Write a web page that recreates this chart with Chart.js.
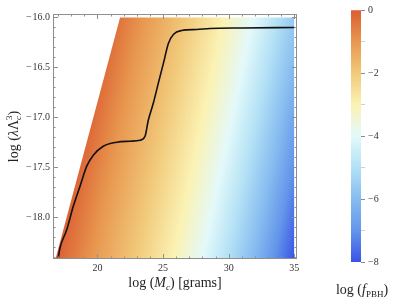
<!DOCTYPE html>
<html>
<head>
<meta charset="utf-8">
<script src="https://cdn.jsdelivr.net/npm/chart.js@4.4.1/dist/chart.umd.min.js"></script>
<style>
  html, body { margin: 0; padding: 0; background: #fff; }
  #wrap { position: relative; width: 399px; height: 307px; }
  #main { position: absolute; left: 0; top: 0; }
  #bar { position: absolute; left: 300px; top: 0; }
</style>
</head>
<body>
<div id="wrap">
  <canvas id="main" width="399" height="307"></canvas>
  <canvas id="bar" width="99" height="307"></canvas>
</div>
<script>
// black curve
const curveX = [17.01, 17.14, 17.65, 18.16, 18.67, 19.18, 19.68, 20.44, 21.46, 22.48, 23.24, 23.62, 23.87, 24.25, 24.63, 25.02, 25.40, 25.78, 26.42, 27.56, 28.57, 31.0, 35.0];
const curveY = [-18.41, -18.31, -18.13, -17.89, -17.69, -17.49, -17.38, -17.29, -17.25, -17.24, -17.23, -17.19, -17.03, -16.86, -16.66, -16.46, -16.26, -16.17, -16.13, -16.12, -16.11, -16.105, -16.10];

// coloured region: slanted left edge, then flat top, filled down to the bottom
const regionX = [16.8, 21.72, 35];
const regionY = [-18.42, -16.0, -16.0];

// colour bar
const barLevels = [0, -1, -2, -3, -4, -5, -6, -7, -8];
const barColors = ['#db5d31', '#e8974f', '#f1c97a', '#fbf2b3', '#e3f9fa', '#b3e1f5', '#87bcf0', '#6396ea', '#3954e6'];
// where each level sits along the bottom edge of the plot (log M_c)
const levelX = [16.7, 19.6, 22.9, 25.75, 28.0, 29.9, 31.8, 33.4, 35.0];
// contours lean right going up: shift in log M_c per unit of log(lambda Lambda^3)
const isoSlant = 1.6;

const xMajor = [20, 25, 30, 35];
const yMajor = [-16, -16.5, -17, -17.5, -18];

const serif = 'Liberation Serif';
const minus = v => (v < 0 ? '\u2212' : '') + Math.abs(v);

function fieldGradient(chart) {
    const { ctx, chartArea, scales } = chart;
    if (!chartArea) return 'rgba(0,0,0,0)';
    const x = scales.x, y = scales.y;
    const yb = y.getPixelForValue(regionY[0]);
    const x0 = x.getPixelForValue(levelX[0]);
    const x1 = x.getPixelForValue(levelX[levelX.length - 1]);
    const s = (x.getPixelForValue(20 + isoSlant) - x.getPixelForValue(20)) /
              (y.getPixelForValue(-17) - y.getPixelForValue(-16));
    const L = x1 - x0;
    const g = ctx.createLinearGradient(x0, yb, x0 + L / (1 + s * s), yb + s * L / (1 + s * s));
    levelX.forEach((v, i) => g.addColorStop((x.getPixelForValue(v) - x0) / L, barColors[i]));
    return g;
}

function drawRuns(ctx, runs, cx, cy) {
    // runs: [text, font, dy, advance]
    let w = 0;
    runs.forEach(r => { ctx.font = r[1]; if (r[3] !== false) w += ctx.measureText(r[0]).width; });
    let xx = cx - w / 2;
    runs.forEach(r => {
        ctx.font = r[1];
        ctx.fillText(r[0], xx, cy + r[2]);
        if (r[3] !== false) xx += ctx.measureText(r[0]).width;
    });
}

const frame = {
    id: 'frame',
    afterDatasetsDraw(chart) {
        const { ctx, chartArea: a, scales } = chart;
        const x = scales.x, y = scales.y;
        ctx.save();
        ctx.strokeStyle = '#8f8f8f';
        ctx.lineWidth = 1;
        ctx.strokeRect(a.left + 0.5, a.top + 0.5, a.width - 1, a.height - 1);
        ctx.beginPath();
        for (let v = 17; v <= 35; v++) {
            const len = xMajor.includes(v) ? 5 : 2.5;
            const px = Math.round(x.getPixelForValue(v)) + 0.5;
            ctx.moveTo(px, a.bottom); ctx.lineTo(px, a.bottom - len);
            ctx.moveTo(px, a.top); ctx.lineTo(px, a.top + len);
        }
        for (let i = 0; i <= 24; i++) {
            const len = i % 5 === 0 ? 5 : 2.5;
            const py = Math.round(y.getPixelForValue(-16 - i / 10)) + 0.5;
            ctx.moveTo(a.left, py); ctx.lineTo(a.left + len, py);
            ctx.moveTo(a.right, py); ctx.lineTo(a.right - len, py);
        }
        ctx.stroke();

        // axis titles
        ctx.fillStyle = '#222';
        ctx.textBaseline = 'alphabetic';
        const f = '14px "' + serif + '"', fi = 'italic 14px "' + serif + '"', fs = 'italic 9px "' + serif + '"';
        drawRuns(ctx, [['log (', f, 0], ['M', fi, 0], ['c', fs, 3], [') [grams]', f, 0]], (a.left + a.right) / 2, 287);
        ctx.translate(18, (a.top + a.bottom) / 2);
        ctx.rotate(-Math.PI / 2);
        drawRuns(ctx, [['log (', f, 0], ['\u03bb', fi, 0], ['\u039b', f, 0],
                       ['c', fs, 3, false], ['3', '9px "' + serif + '"', -6], [')', f, 0]], 0, 0);
        ctx.restore();
    }
};

new Chart(document.getElementById('main'), {
    type: 'scatter',
    data: {
        datasets: [{
            data: curveX.map((v, i) => ({ x: v, y: curveY[i] })),
            showLine: true,
            borderColor: '#111',
            borderWidth: 1.6,
            pointRadius: 0,
            cubicInterpolationMode: 'monotone',
            fill: false
        }, {
            data: regionX.map((v, i) => ({ x: v, y: regionY[i] })),
            showLine: true,
            borderWidth: 0,
            borderColor: 'rgba(0,0,0,0)',
            pointRadius: 0,
            fill: 'start',
            backgroundColor: c => fieldGradient(c.chart)
        }]
    },
    options: {
        responsive: false,
        animation: false,
        events: [],
        layout: { padding: { left: 0, top: 14, right: 102, bottom: 0 } },
        plugins: { legend: { display: false }, tooltip: { enabled: false } },
        scales: {
            x: {
                type: 'linear', min: 16.61, max: 35.2,
                afterBuildTicks: s => { s.ticks = xMajor.map(v => ({ value: v })); },
                afterFit: s => { s.height = 48; },
                grid: { display: false, drawTicks: false }, border: { display: false },
                ticks: { padding: 3, color: '#333', maxRotation: 0, font: { family: serif, size: 10 }, callback: v => String(v) }
            },
            y: {
                type: 'linear', min: -18.42, max: -15.965,
                afterBuildTicks: s => { s.ticks = yMajor.map(v => ({ value: v })); },
                afterFit: s => { s.width = 53; },
                grid: { display: false, drawTicks: false }, border: { display: false },
                ticks: { padding: 3, color: '#333', font: { family: serif, size: 10 }, callback: v => '\u2212\u200a' + Math.abs(v).toFixed(1) }
            }
        }
    },
    plugins: [frame]
});

function barGradient(chart) {
    const { ctx, chartArea, scales } = chart;
    if (!chartArea) return 'rgba(0,0,0,0)';
    const y = scales.y;
    const top = y.getPixelForValue(barLevels[0]);
    const bot = y.getPixelForValue(barLevels[barLevels.length - 1]);
    const g = ctx.createLinearGradient(0, top, 0, bot);
    barLevels.forEach((v, i) => g.addColorStop((y.getPixelForValue(v) - top) / (bot - top), barColors[i]));
    return g;
}

const barTitle = {
    id: 'barTitle',
    afterDraw(chart) {
        const ctx = chart.ctx;
        ctx.save();
        ctx.fillStyle = '#222';
        ctx.textBaseline = 'alphabetic';
        const f = '14px "' + serif + '"';
        drawRuns(ctx, [['log (', f, 0], ['f', 'italic 14px "' + serif + '"', 0], ['PBH', '9px "' + serif + '"', 3], [')', f, 0]], 62, 294);
        ctx.restore();
    }
};

new Chart(document.getElementById('bar'), {
    type: 'bar',
    data: {
        labels: [''],
        datasets: [{
            data: [[barLevels[barLevels.length - 1], barLevels[0]]],
            backgroundColor: c => barGradient(c.chart),
            borderWidth: 0,
            barPercentage: 1,
            categoryPercentage: 1
        }]
    },
    options: {
        responsive: false,
        animation: false,
        events: [],
        layout: { padding: { left: 51, top: 10, bottom: 45, right: 0 } },
        plugins: { legend: { display: false }, tooltip: { enabled: false } },
        scales: {
            x: { display: false },
            y: {
                position: 'right', min: -8, max: 0,
                afterFit: s => { s.width = 38; },
                border: { display: false },
                grid: {
                    drawOnChartArea: false, tickLength: 4,
                    color: c => (c.tick && c.tick.value % 2 === 0) ? '#8a8a8a' : '#d0d0d0'
                },
                ticks: {
                    stepSize: 1, padding: 3, color: '#333', font: { family: serif, size: 10 },
                    callback: v => v % 2 === 0 ? minus(v) : ''
                }
            }
        }
    },
    plugins: [barTitle]
});
</script>
</body>
</html>
